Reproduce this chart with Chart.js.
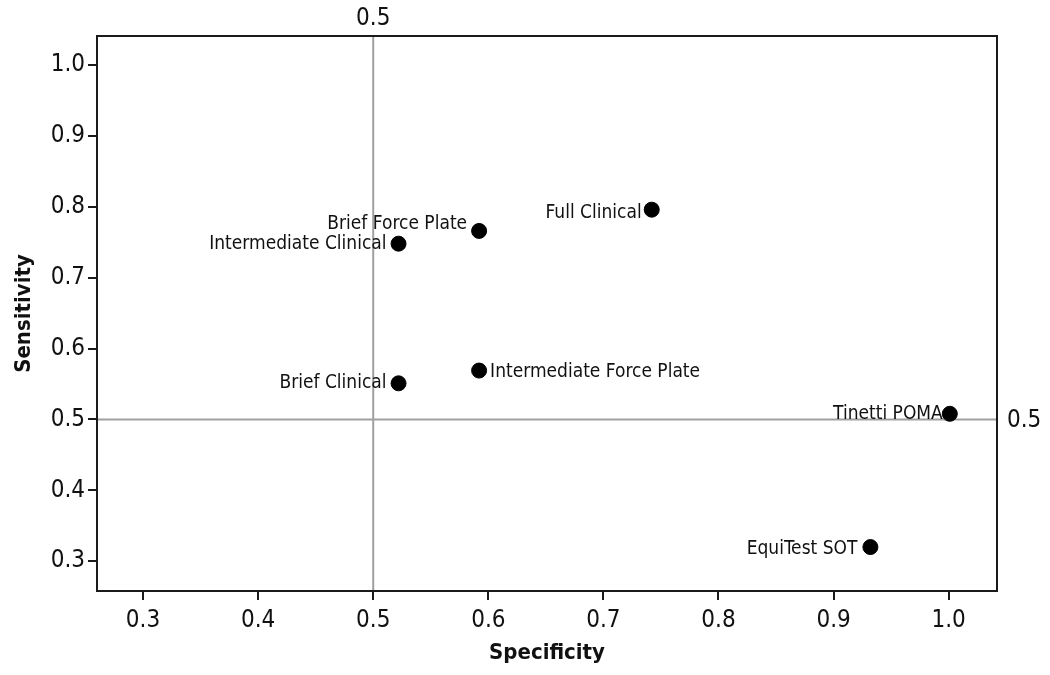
<!DOCTYPE html>
<html>
<head>
<meta charset="utf-8">
<script src="https://cdn.jsdelivr.net/npm/chart.js@4/dist/chart.umd.min.js"></script>
<style>
  html, body { margin: 0; padding: 0; background: #fff; }
  #wrap { width: 1050px; height: 675px; }
</style>
</head>
<body>
<div id="wrap"><canvas id="chart" width="1050" height="675"></canvas></div>
<script>
// data
const tests = ['Full Clinical', 'Brief Force Plate', 'Intermediate Clinical', 'Brief Clinical',
  'Intermediate Force Plate', 'Tinetti POMA', 'EquiTest SOT'];
const specificity = [0.742, 0.592, 0.522, 0.522, 0.592, 1.001, 0.932];
const sensitivity = [0.796, 0.766, 0.748, 0.551, 0.569, 0.508, 0.320];
const tickValues = [0.3, 0.4, 0.5, 0.6, 0.7, 0.8, 0.9, 1.0];
const refX = 0.5;
const refY = 0.5;

// where each label sits relative to its point: [side, dx, dy]
const labelPlace = [
  ['left', -10, 3], ['left', -12, -7], ['left', -12, 0], ['left', -12, 0],
  ['right', 11, 2], ['left', -7, 0], ['left', -13, 2]
];

const FONT = "'DejaVu Sans Condensed', 'DejaVu Sans', Verdana, sans-serif";

const points = specificity.map((x, i) => ({ x: x, y: sensitivity[i] }));

const decorPlugin = {
  id: 'decor',
  beforeDatasetsDraw(chart) {
    const ctx = chart.ctx;
    const a = chart.chartArea;
    const xs = chart.scales.x, ys = chart.scales.y;
    const px = xs.getPixelForValue(refX);
    const py = ys.getPixelForValue(refY);
    ctx.save();
    ctx.strokeStyle = '#a0a0a0';
    ctx.lineWidth = 2;
    ctx.beginPath();
    ctx.moveTo(px, a.top); ctx.lineTo(px, a.bottom);
    ctx.moveTo(a.left, py); ctx.lineTo(a.right, py);
    ctx.stroke();
    // frame
    ctx.strokeStyle = '#1a1a1a';
    ctx.lineWidth = 2;
    ctx.strokeRect(a.left, a.top, a.right - a.left, a.bottom - a.top);
    // reference labels
    ctx.fillStyle = '#111';
    ctx.font = '24px ' + FONT;
    ctx.textAlign = 'center';
    ctx.textBaseline = 'middle';
    ctx.fillText(refX.toFixed(1), px, a.top - 17);
    ctx.textAlign = 'left';
    ctx.fillText(refY.toFixed(1), a.right + 10, py + 1);
    ctx.restore();
  },
  afterDatasetsDraw(chart) {
    const ctx = chart.ctx;
    const xs = chart.scales.x, ys = chart.scales.y;
    ctx.save();
    ctx.fillStyle = '#111';
    ctx.font = '19px ' + FONT;
    ctx.textBaseline = 'middle';
    tests.forEach((name, i) => {
      const p = labelPlace[i];
      ctx.textAlign = p[0] === 'left' ? 'right' : 'left';
      ctx.fillText(name, xs.getPixelForValue(specificity[i]) + p[1], ys.getPixelForValue(sensitivity[i]) + p[2]);
    });
    ctx.restore();
  }
};

new Chart(document.getElementById('chart'), {
  type: 'scatter',
  data: {
    datasets: [{
      data: points,
      backgroundColor: '#000',
      borderColor: '#000',
      pointRadius: 7.5,
      pointHoverRadius: 7.5
    }]
  },
  options: {
    responsive: false,
    animation: false,
    events: [],
    layout: { padding: { top: 36, right: 53, left: 0, bottom: 0 } },
    plugins: { legend: { display: false }, tooltip: { enabled: false } },
    scales: {
      x: {
        type: 'linear',
        min: 0.26,
        max: 1.042,
        afterBuildTicks: s => { s.ticks = tickValues.map(v => ({ value: v })); },
        afterFit: s => { s.height = 675 - 591; },
        ticks: { color: '#111', font: { size: 24, family: FONT }, padding: 6,
          callback: v => Number(v).toFixed(1) },
        grid: { drawOnChartArea: false, drawTicks: true, tickLength: 9, color: '#1a1a1a', lineWidth: 2 },
        border: { display: true, color: '#1a1a1a', width: 2 },
        title: { display: true, text: 'Specificity', color: '#111',
          font: { size: 22, weight: 'bold', family: FONT }, padding: { top: 0, bottom: 9 } }
      },
      y: {
        type: 'linear',
        min: 0.258,
        max: 1.041,
        afterBuildTicks: s => { s.ticks = tickValues.map(v => ({ value: v })); },
        afterFit: s => { s.width = 97; },
        ticks: { color: '#111', font: { size: 24, family: FONT }, padding: 3,
          callback: v => Number(v).toFixed(1) },
        grid: { drawOnChartArea: false, drawTicks: true, tickLength: 9, color: '#1a1a1a', lineWidth: 2 },
        border: { display: true, color: '#1a1a1a', width: 2 },
        title: { display: true, text: 'Sensitivity', color: '#111',
          font: { size: 22, weight: 'bold', family: FONT }, padding: { top: 11, bottom: 0 } }
      }
    }
  },
  plugins: [decorPlugin]
});
</script>
</body>
</html>
